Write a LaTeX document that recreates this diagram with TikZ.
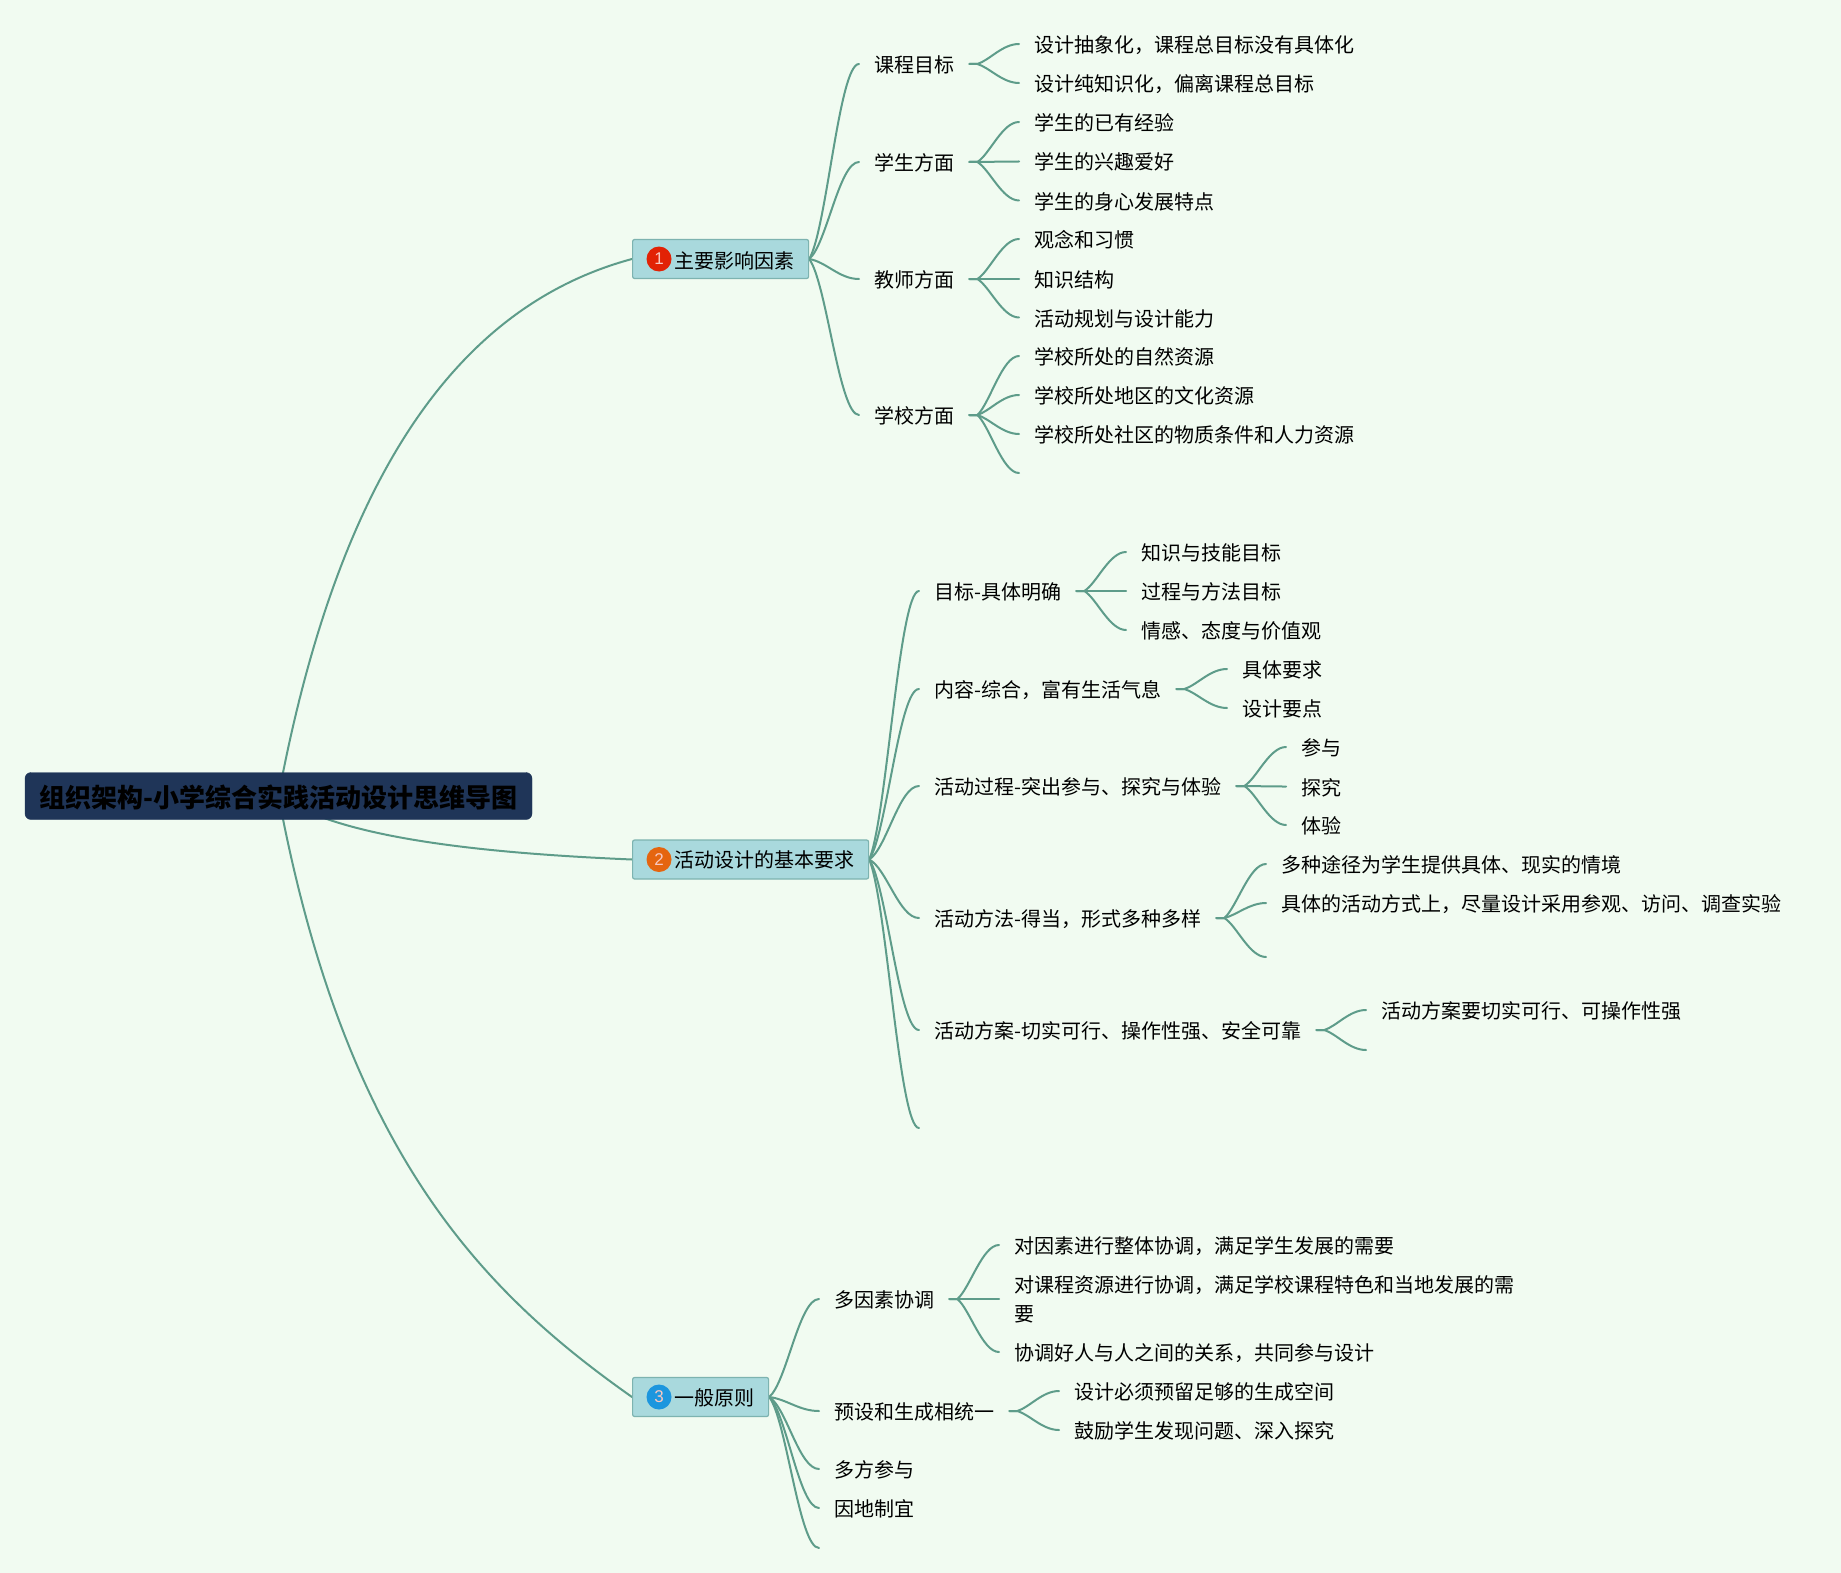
\documentclass[tikz,border=0pt]{standalone}
\usepackage{fontspec}
\setmainfont{Noto Sans CJK SC}
\newfontfamily\digitfont{Liberation Sans}
\newcommand{\fwc}{\char"FF0C\relax}
\usetikzlibrary{calc,backgrounds}
\definecolor{bgc}{HTML}{F1FBF1}
\definecolor{linec}{HTML}{5E9C8A}
\definecolor{boxc}{HTML}{A9D9DD}
\definecolor{boxl}{HTML}{7DB3B0}
\definecolor{rootc}{HTML}{1F3558}
\definecolor{ired}{HTML}{E22205}
\definecolor{iorange}{HTML}{E5650F}
\definecolor{iblue}{HTML}{1C96DE}
\tikzset{
  x=1pt,y=-1pt,
  mm/.style={to path={let \p1=(\tikztostart),\p2=(\tikztotarget) in
     .. controls (\x1*0.65+\x2*0.35,\y1*0.85+\y2*0.15) and (\x1*0.4+\x2*0.6,\y2) .. (\tikztotarget)}},
  fk/.style={to path={let \p1=(\tikztostart),\p2=(\tikztotarget),\p3=(\x1+8pt,\y1) in
     -- (\p3) .. controls (\x3*0.7+\x2*0.3,\y3*0.8+\y2*0.2) and (\x3*0.4+\x2*0.6,\y2) .. (\tikztotarget)}},
  link/.style={draw=linec,line width=2pt,line cap=round},
  leafbase/.style={anchor=west,inner xsep=15pt,inner ysep=0pt,font=\fontsize{20}{29}\selectfont,align=left,text=black},
  leaf/.style={leafbase,text height=17pt,text depth=0pt},
  rootbox/.style={anchor=center,fill=rootc,draw=rootc,rounded corners=6pt,minimum width=507pt,minimum height=47pt,inner sep=0pt,font=\fontsize{26}{30}\selectfont\bfseries,text=black},
  mainbox/.style={anchor=west,fill=boxc,draw=boxl,line width=1.2pt,rounded corners=2pt,minimum height=39pt,inner xsep=14pt,inner ysep=0pt,font=\fontsize{20}{24}\selectfont,text=black},
  badge/.style={circle,minimum size=25pt,inner sep=0pt,font=\digitfont\fontsize{17}{17}\selectfont,text=white!75!ired},
}
\begin{document}
\begin{tikzpicture}
\useasboundingbox (0,0) rectangle (1841,1573);
% Nodes
\node[rootbox] (root) at (278.5,796) {\raisebox{-2pt}[22.9pt][3.1pt]{组织架构-小学综合实践活动设计思维导图}};
\node[mainbox] (m1) at (632,259) {\hspace{28pt}\raisebox{-1.5pt}[17.6pt][2.4pt]{主要影响因素}};
\node[mainbox] (m2) at (632,859.5) {\hspace{28pt}\raisebox{-0.5pt}[17.6pt][2.4pt]{活动设计的基本要求}};
\node[mainbox] (m3) at (632,1397) {\hspace{28pt}\raisebox{-0.5pt}[17.6pt][2.4pt]{一般原则}};
\node[badge,fill=ired] (b1) at (659,259) {1};
\node[badge,fill=iorange] (b2) at (659,859.5) {2};
\node[badge,fill=iblue] (b3) at (659,1397) {3};
% Group 1
\node[leaf] (a1) at (859,64) {课程目标};
\node[leaf] (a2) at (859,162) {学生方面};
\node[leaf] (a3) at (859,279) {教师方面};
\node[leaf] (a4) at (859,415) {学校方面};
\node[leaf] (a11) at (1019,44) {设计抽象化\fwc 课程总目标没有具体化};
\node[leaf] (a12) at (1019,83) {设计纯知识化\fwc 偏离课程总目标};
\node[leaf] (a21) at (1019,122) {学生的已有经验};
\node[leaf] (a22) at (1019,161.5) {学生的兴趣爱好};
\node[leaf] (a23) at (1019,200.5) {学生的身心发展特点};
\node[leaf] (a31) at (1019,239) {观念和习惯};
\node[leaf] (a32) at (1019,279) {知识结构};
\node[leaf] (a33) at (1019,317.5) {活动规划与设计能力};
\node[leaf] (a41) at (1019,356) {学校所处的自然资源};
\node[leaf] (a42) at (1019,395) {学校所处地区的文化资源};
\node[leaf] (a43) at (1019,434) {学校所处社区的物质条件和人力资源};
\coordinate (a44) at (1019,473);
% Group 2
\node[leaf] (b1n) at (919,591) {目标-具体明确};
\node[leaf] (b2n) at (919,689) {内容-综合\fwc 富有生活气息};
\node[leaf] (b3n) at (919,786) {活动过程-突出参与、探究与体验};
\node[leaf] (b4n) at (919,918) {活动方法-得当\fwc 形式多种多样};
\node[leaf] (b5n) at (919,1030) {活动方案-切实可行、操作性强、安全可靠};
\coordinate (b6n) at (919,1128);
\node[leaf] (b11) at (1126,552) {知识与技能目标};
\node[leaf] (b12) at (1126,591) {过程与方法目标};
\node[leaf] (b13) at (1126,630) {情感、态度与价值观};
\node[leaf] (b21) at (1227,669) {具体要求};
\node[leaf] (b22) at (1227,708) {设计要点};
\node[leaf] (b31) at (1286,747) {参与};
\node[leaf] (b32) at (1286,786.5) {探究};
\node[leaf] (b33) at (1286,825) {体验};
\node[leaf] (b41) at (1266,864) {多种途径为学生提供具体、现实的情境};
\node[leaf] (b42) at (1266,903) {具体的活动方式上\fwc 尽量设计采用参观、访问、调查实验};
\coordinate (b43) at (1266,957);
\node[leaf] (b51) at (1366,1010) {活动方案要切实可行、可操作性强};
\coordinate (b52) at (1366,1050);
% Group 3
\node[leaf] (c1) at (819,1299) {多因素协调};
\node[leaf] (c2) at (819,1411) {预设和生成相统一};
\node[leaf] (c3) at (819,1469) {多方参与};
\node[leaf] (c4) at (819,1508) {因地制宜};
\coordinate (c5) at (819,1548);
\node[leaf] (c11) at (999,1245) {对因素进行整体协调\fwc 满足学生发展的需要};
\node[leafbase] (c12) at (999,1299) {对课程资源进行协调\fwc 满足学校课程特色和当地发展的需\\要};
\node[leaf] (c13) at (999,1352) {协调好人与人之间的关系\fwc 共同参与设计};
\node[leaf] (c21) at (1059,1391) {设计必须预留足够的生成空间};
\node[leaf] (c22) at (1059,1430) {鼓励学生发现问题、深入探究};
% Connectors
\begin{pgfonlayer}{background}
\fill[bgc] (0,0) rectangle (1841,1573);
\draw[link] (root.center) .. controls (345,440) and (480,300) .. (m1.west);
\draw[link] (root.center) .. controls (340,838) and (480,853) .. (m2.west);
\draw[link] (root.center) .. controls (345,1150) and (480,1290) .. (m3.west);
\foreach \p/\c in {m1/a1,m1/a2,m1/a3,m1/a4,
  m2/b1n,m2/b2n,m2/b3n,m2/b4n,m2/b5n,
  m3/c1,m3/c2,m3/c3,m3/c4}
  {\draw[link] (\p.east) to[mm] (\c.west);}
\foreach \p/\c in {a1/a11,a1/a12,a2/a21,a2/a22,a2/a23,a3/a31,a3/a32,a3/a33,a4/a41,a4/a42,a4/a43,
  b1n/b11,b1n/b12,b1n/b13,b2n/b21,b2n/b22,b3n/b31,b3n/b32,b3n/b33,b4n/b41,b4n/b42,b5n/b51,
  c1/c11,c1/c12,c1/c13,c2/c21,c2/c22}
  {\draw[link] (\p.east) to[fk] (\c.west);}
\draw[link] (a4.east) to[fk] (a44);
\draw[link] (m2.east) to[mm] (b6n);
\draw[link] (b4n.east) to[fk] (b43);
\draw[link] (b5n.east) to[fk] (b52);
\draw[link] (m3.east) to[mm] (c5);
\end{pgfonlayer}
\end{tikzpicture}
\end{document}
